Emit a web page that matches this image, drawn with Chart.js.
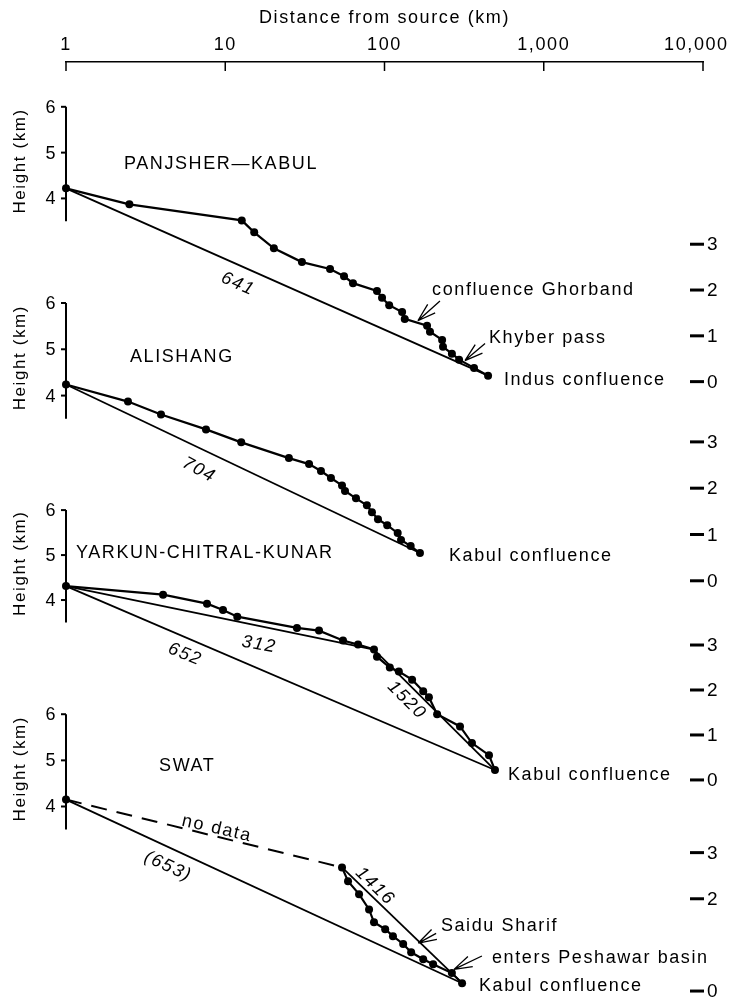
<!DOCTYPE html>
<html lang="en">
<head>
<meta charset="UTF-8">
<title>Longitudinal river profiles</title>
<style>
  body { margin: 0; background: #fff; }
  canvas { display: block; }
</style>
</head>
<body>
<canvas id="chart" width="729" height="1005"></canvas>
<script src="https://cdn.jsdelivr.net/npm/chart.js"></script>
<script>
// top axis: distance from source (km), log scale
const distTicks = [1, 10, 100, 1000, 10000];
const distTickLabels = ['1', '10', '100', '1,000', '10,000  '];  // last one nudged left to stay on the page
const panelNames = ['PANJSHER\u2014KABUL', 'ALISHANG', 'YARKUN-CHITRAL-KUNAR', 'SWAT'];
const leftTicks = [4, 5, 6];
const rightTicks = [0, 1, 2, 3];

// PANJSHER-KABUL
const panjDist = [1, 2.5, 12.7, 15.2, 20.2, 30.3, 45.5, 55.7, 63.4, 89.7, 96.5, 107, 129, 134, 185, 193, 230, 233, 265, 294, 365, 447];
const panjHeight = [4.22, 3.87, 3.52, 3.26, 2.91, 2.61, 2.46, 2.30, 2.15, 1.98, 1.83, 1.67, 1.52, 1.37, 1.22, 1.09, 0.91, 0.76, 0.61, 0.48, 0.30, 0.13];

// ALISHANG
const aliDist = [1, 2.45, 3.95, 7.57, 12.6, 25.1, 33.6, 39.9, 46.1, 54.1, 56.5, 66.2, 77.5, 83.4, 91.0, 104, 121, 127, 146, 167];
const aliHeight = [4.24, 3.87, 3.59, 3.27, 2.99, 2.65, 2.52, 2.37, 2.22, 2.06, 1.94, 1.78, 1.63, 1.48, 1.33, 1.20, 1.03, 0.88, 0.75, 0.60];

// YARKUN-CHITRAL-KUNAR (index 9 = break of slope)
const yarDist = [1, 4.07, 7.68, 9.68, 11.9, 28.2, 38.8, 54.9, 68.2, 85.9, 89.7, 108, 123, 149, 175, 190, 214, 298, 354, 453, 494];
const yarHeight = [4.31, 4.12, 3.92, 3.78, 3.63, 3.38, 3.32, 3.10, 3.01, 2.90, 2.74, 2.50, 2.41, 2.23, 1.97, 1.84, 1.46, 1.19, 0.82, 0.55, 0.22];
const yarBreak = 9;

// SWAT: source point, then surveyed reach
const swatSourceDist = 1;
const swatSourceHeight = 4.15;
const swatDist = [54.1, 59.0, 69.2, 80.0, 85.9, 101, 113, 131, 147, 175, 202, 265, 307];
const swatHeight = [2.68, 2.38, 2.10, 1.77, 1.49, 1.34, 1.19, 1.02, 0.84, 0.69, 0.58, 0.39, 0.17];

// gradient labels on the straight lines
const slopeLabels = ['641', '704', '652', '312', '1520', '(653)', '1416'];

// page geometry (pixels)
const AREA_TOP = 62, AREA_BOTTOM = 1005;
const panelTopPx = [107, 304, 512, 717];   // where 6 km sits
const panelZeroPx = [383, 583, 783, 995];  // where 0 km sits

const FONT = '"Liberation Sans", Arial, sans-serif';
Chart.defaults.font.family = FONT;
Chart.defaults.color = '#000';

function panelRange(p6, p0) {
  const s = (p0 - p6) / 6;
  return { min: -(AREA_BOTTOM - p0) / s, max: 6 + (p6 - AREA_TOP) / s };
}
function pts(d, h) { return d.map((v, i) => ({ x: v, y: h[i] })); }
function profile(d, h, axis) {
  return { data: pts(d, h), yAxisID: axis, borderColor: '#000', backgroundColor: '#000',
    borderWidth: 2.2, pointRadius: 4, pointHoverRadius: 4, pointBorderWidth: 0, clip: false };
}
function chord(d, h, axis, dash) {
  return { data: pts(d, h), yAxisID: axis, borderColor: '#000', borderWidth: dash ? 2 : 1.8,
    pointRadius: 0, borderDash: dash || [], clip: false };
}

const datasets = [
  chord([panjDist[0], panjDist.at(-1)], [panjHeight[0], panjHeight.at(-1)], 'y0'),
  chord([aliDist[0], aliDist.at(-1)], [aliHeight[0], aliHeight.at(-1)], 'y1'),
  chord([yarDist[0], yarDist.at(-1)], [yarHeight[0], yarHeight.at(-1)], 'y2'),
  chord([yarDist[0], yarDist[yarBreak]], [yarHeight[0], yarHeight[yarBreak]], 'y2'),
  chord([yarDist[yarBreak], yarDist.at(-1)], [yarHeight[yarBreak], yarHeight.at(-1)], 'y2'),
  chord([swatSourceDist, swatDist.at(-1)], [swatSourceHeight, swatHeight.at(-1)], 'y3'),
  chord([swatDist[0], swatDist.at(-1)], [swatHeight[0], swatHeight.at(-1)], 'y3'),
  chord([swatSourceDist, swatDist[0]], [swatSourceHeight, swatHeight[0]], 'y3', [16, 10]),
  profile(panjDist, panjHeight, 'y0'),
  profile(aliDist, aliHeight, 'y1'),
  profile(yarDist, yarHeight, 'y2'),
  profile([swatSourceDist], [swatSourceHeight], 'y3'),
  profile(swatDist, swatHeight, 'y3')
];

// text placement, in data units of each panel
const titleAt = [[2.31, 4.78], [2.52, 4.86], [1.155, 5.07], [3.84, 4.90]];
const slopeAt = [
  { panel: 0, at: [12.0, 2.13], angle: 24 },
  { panel: 1, at: [6.84, 2.39], angle: 28 },
  { panel: 2, at: [5.59, 2.79], angle: 22 },
  { panel: 2, at: [16.3, 3.01], angle: 10 },
  { panel: 2, at: [138, 1.77], angle: 45 },
  { panel: 3, at: [4.37, 2.70], angle: 25 },
  { panel: 3, at: [87.2, 2.27], angle: 44 }
];
const notes = [
  { panel: 0, text: 'confluence Ghorband', at: [199, 2.04], tip: [162, 1.33], tail: [223, 1.76] },
  { panel: 0, text: 'Khyber pass', at: [453, 1.0], tip: [320, 0.46], tail: [428, 0.83] },
  { panel: 0, text: 'Indus confluence', at: [562, 0.07] },
  { panel: 1, text: 'Kabul confluence', at: [254, 0.58] },
  { panel: 2, text: 'Kabul confluence', at: [596, 0.15] },
  { panel: 3, text: 'Saidu Sharif', at: [226, 1.45], tip: [163, 1.04], tail: [211, 1.25] },
  { panel: 3, text: 'enters Peshawar basin', at: [473, 0.76], tip: [273, 0.47], tail: [409, 0.76] },
  { panel: 3, text: 'Kabul confluence', at: [392, 0.15] }
];

const scales = {
  x: {
    type: 'logarithmic', position: 'top', min: 1, max: 10000,
    afterBuildTicks: ax => { ax.ticks = distTicks.map(v => ({ value: v })); },
    afterFit: ax => { ax.height = AREA_TOP; ax.paddingLeft = 0; ax.paddingRight = 0; },
    grid: { display: false, drawTicks: false },
    border: { display: true, color: '#000', width: 1.5 },
    ticks: { color: '#000', font: { size: 18 }, padding: 6, maxRotation: 0, autoSkip: false,
      callback: (v, i) => distTickLabels[i] },
    title: { display: true, text: 'Distance from source (km)', color: '#000',
      font: { size: 18 }, padding: { top: 7, bottom: 0 } }
  }
};
panelNames.forEach((n, i) => {
  const r = panelRange(panelTopPx[i], panelZeroPx[i]);
  scales['y' + i] = { type: 'linear', display: false, min: r.min, max: r.max };
});

function arrow(ctx, tx, ty, fx, fy) {
  const a = Math.atan2(fy - ty, fx - tx);
  ctx.beginPath();
  ctx.moveTo(tx, ty); ctx.lineTo(fx, fy);
  [-0.3, 0.3].forEach(d => {
    ctx.moveTo(tx, ty);
    ctx.lineTo(tx + 19 * Math.cos(a + d), ty + 19 * Math.sin(a + d));
  });
  ctx.stroke();
}

const spacing = {
  id: 'spacing',
  beforeDraw(chart) { chart.ctx.letterSpacing = '1.6px'; }
};

const decor = {
  id: 'decor',
  afterDraw(chart) {
    const ctx = chart.ctx, xs = chart.scales.x, area = chart.chartArea;
    ctx.save();
    ctx.letterSpacing = '1.6px';
    ctx.strokeStyle = '#000';
    ctx.fillStyle = '#000';
    ctx.lineWidth = 1.5;
    // downward ticks of the distance axis
    distTicks.forEach(v => {
      const x = xs.getPixelForValue(v);
      ctx.beginPath(); ctx.moveTo(x, area.top); ctx.lineTo(x, area.top + 9); ctx.stroke();
    });

    ctx.textBaseline = 'middle';
    panelNames.forEach((name, i) => {
      const ys = chart.scales['y' + i];
      const x0 = xs.getPixelForValue(1);
      // left height axis
      ctx.lineWidth = 2;
      ctx.beginPath();
      ctx.moveTo(x0, ys.getPixelForValue(6));
      ctx.lineTo(x0, ys.getPixelForValue(3.5));
      ctx.stroke();
      ctx.font = '18px ' + FONT;
      ctx.textAlign = 'right';
      leftTicks.forEach(v => {
        const y = ys.getPixelForValue(v);
        ctx.beginPath(); ctx.moveTo(x0 - 5, y); ctx.lineTo(x0, y); ctx.stroke();
        ctx.fillText(String(v), x0 - 9, y + 1);
      });
      ctx.save();
      ctx.translate(20, ys.getPixelForValue(4.82));
      ctx.rotate(-Math.PI / 2);
      ctx.textAlign = 'center';
      ctx.font = '17px ' + FONT;
      ctx.fillText('Height (km)', 0, 0);
      ctx.restore();

      // right height ticks 0-3
      ctx.lineWidth = 3;
      ctx.textAlign = 'left';
      ctx.font = '19px ' + FONT;
      rightTicks.forEach(v => {
        if (i === 3 && v === 1) return; // hidden behind the basin note
        const y = ys.getPixelForValue(v);
        ctx.beginPath(); ctx.moveTo(area.right - 13, y); ctx.lineTo(area.right + 1, y); ctx.stroke();
        ctx.fillText(String(v), area.right + 4, y + 1);
      });

      // panel title
      ctx.font = '18px ' + FONT;
      ctx.fillText(name, xs.getPixelForValue(titleAt[i][0]), ys.getPixelForValue(titleAt[i][1]) + 1);
    });

    // gradient labels along the chords
    ctx.textAlign = 'center';
    slopeAt.forEach((s, k) => {
      const ys = chart.scales['y' + s.panel];
      ctx.save();
      ctx.translate(xs.getPixelForValue(s.at[0]), ys.getPixelForValue(s.at[1]));
      ctx.rotate(s.angle * Math.PI / 180);
      ctx.font = 'italic 18px ' + FONT;
      ctx.fillText(slopeLabels[k], 0, 0);
      ctx.restore();
    });
    // "no data" along the dashed stretch
    ctx.save();
    ctx.translate(xs.getPixelForValue(8.87), chart.scales.y3.getPixelForValue(3.52));
    ctx.rotate(13 * Math.PI / 180);
    ctx.font = '18px ' + FONT;
    ctx.fillText('no data', 0, 0);
    ctx.restore();

    // place notes and arrows
    ctx.textAlign = 'left';
    ctx.font = '18px ' + FONT;
    ctx.lineWidth = 1.3;
    notes.forEach(n => {
      const ys = chart.scales['y' + n.panel];
      ctx.fillText(n.text, xs.getPixelForValue(n.at[0]), ys.getPixelForValue(n.at[1]) + 2);
      if (n.tip) {
        arrow(ctx, xs.getPixelForValue(n.tip[0]), ys.getPixelForValue(n.tip[1]),
          xs.getPixelForValue(n.tail[0]), ys.getPixelForValue(n.tail[1]));
      }
    });
    ctx.restore();
  }
};

new Chart(document.getElementById('chart'), {
  type: 'line',
  data: { datasets },
  options: {
    responsive: false,
    devicePixelRatio: 1,
    animation: false,
    layout: { padding: { left: 66, right: 26, top: 0, bottom: 0 } },
    plugins: { legend: { display: false }, tooltip: { enabled: false } },
    elements: { line: { tension: 0 } },
    scales
  },
  plugins: [spacing, decor]
});
</script>
</body>
</html>
